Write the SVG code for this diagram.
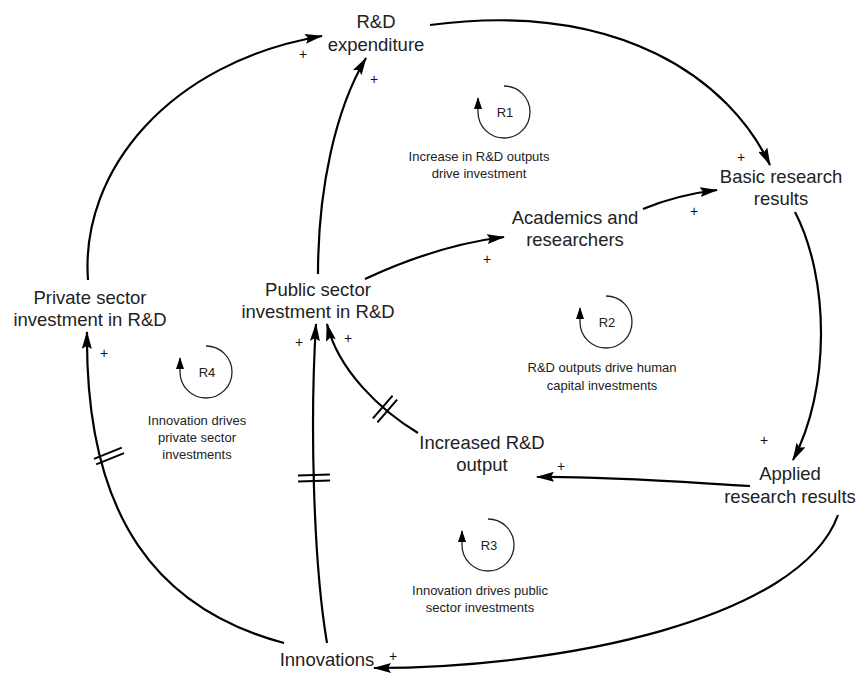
<svg xmlns="http://www.w3.org/2000/svg" width="857" height="676" viewBox="0 0 857 676">
<defs>
<style>
.node{font-family:"Liberation Sans",Arial,sans-serif;font-size:18.5px;fill:#222;text-anchor:middle}
.small{font-family:"Liberation Sans",Arial,sans-serif;font-size:13px;fill:#222;text-anchor:middle}
.pol{font-family:"Liberation Sans",Arial,sans-serif;font-size:14px;fill:#111;text-anchor:middle}
.link{fill:none;stroke:#000;stroke-width:2.2;marker-end:url(#ah)}
.delay{stroke:#000;stroke-width:2;fill:none}
.loop{fill:none;stroke:#222;stroke-width:1.3;marker-end:url(#lh)}
</style>
<marker id="ah" viewBox="0 0 18 10" refX="17" refY="5" markerWidth="18" markerHeight="10" markerUnits="userSpaceOnUse" orient="auto">
<path d="M0,0 L18,5 L0,10 L3,5 z" fill="#000"/>
</marker>
<marker id="lh" viewBox="0 0 12 8" refX="11" refY="4" markerWidth="12" markerHeight="8" markerUnits="userSpaceOnUse" orient="auto">
<path d="M0,0 L12,4 L0,8 z" fill="#000"/>
</marker>
</defs>
<rect width="857" height="676" fill="#fff"/>

<g id="connectors">
<path class="link" d="M88,280 C80,170 170,62 322,36"/>
<path class="link" d="M318,274 C318,190 335,110 366,58"/>
<path class="link" d="M430,25 C620,0 730,80 770,165"/>
<path class="link" d="M643,209 C667,199 692,193 717,190"/>
<path class="link" d="M365,279 C410,258 455,243 504,237"/>
<path class="link" d="M795,212 C830,280 830,390 793,460"/>
<path class="link" d="M750,486 C680,482 600,476 537,477"/>
<path class="link" d="M418,433 C380,410 338,370 327,324"/>
<path class="link" d="M327,643 C313,560 310,420 316,324"/>
<path class="link" d="M284,643 C160,610 85,520 87,332"/>
<path class="link" d="M838,515 C800,620 560,668 374,668"/>
<g id="delays">
<g transform="translate(109,456) rotate(-22)"><line class="delay" x1="-15" y1="-3" x2="15" y2="-3"/><line class="delay" x1="-15" y1="3" x2="15" y2="3"/></g>
<g transform="translate(314,478) rotate(-2)"><line class="delay" x1="-16" y1="-3" x2="16" y2="-3"/><line class="delay" x1="-16" y1="3" x2="16" y2="3"/></g>
<g transform="translate(385,409) rotate(-49)"><line class="delay" x1="-15" y1="-3" x2="15" y2="-3"/><line class="delay" x1="-15" y1="3" x2="15" y2="3"/></g>
</g>
<g id="polarities" class="pol">
<text x="303" y="59">+</text>
<text x="374" y="84">+</text>
<text x="741" y="162">+</text>
<text x="694" y="216">+</text>
<text x="487" y="264">+</text>
<text x="764" y="445">+</text>
<text x="561" y="471">+</text>
<text x="104" y="358">+</text>
<text x="299" y="347">+</text>
<text x="348" y="343">+</text>
<text x="393" y="661">+</text>
</g>
</g>

<g id="rd-expenditure"><text class="node" x="376" y="28">R&amp;D</text><text class="node" x="376" y="51">expenditure</text></g>
<g id="basic-research"><text class="node" x="781" y="183">Basic research</text><text class="node" x="781" y="205">results</text></g>
<g id="academics"><text class="node" x="575" y="224">Academics and</text><text class="node" x="575" y="246">researchers</text></g>
<g id="public-sector"><text class="node" x="318" y="296">Public sector</text><text class="node" x="318" y="318">investment in R&amp;D</text></g>
<g id="private-sector"><text class="node" x="90" y="304">Private sector</text><text class="node" x="90" y="326">investment in R&amp;D</text></g>
<g id="increased-output"><text class="node" x="482" y="449">Increased R&amp;D</text><text class="node" x="482" y="471">output</text></g>
<g id="applied-research"><text class="node" x="790" y="480">Applied</text><text class="node" x="790" y="503">research results</text></g>
<g id="innovations"><text class="node" x="327" y="666">Innovations</text></g>

<g id="loop-r1">
<path class="loop" d="M504,86 A26,26 0 1 1 478,112 L478,98"/>
<text class="small" x="505" y="117">R1</text>
<text class="small" x="479" y="161">Increase in R&amp;D outputs</text>
<text class="small" x="479" y="178">drive investment</text>
</g>
<g id="loop-r2">
<path class="loop" d="M606,296 A26,26 0 1 1 580,322 L580,308"/>
<text class="small" x="607" y="327">R2</text>
<text class="small" x="602" y="372">R&amp;D outputs drive human</text>
<text class="small" x="602" y="390">capital investments</text>
</g>
<g id="loop-r3">
<path class="loop" d="M488,519 A26,26 0 1 1 462,545 L462,531"/>
<text class="small" x="489" y="550">R3</text>
<text class="small" x="480" y="595">Innovation drives public</text>
<text class="small" x="480" y="612">sector investments</text>
</g>
<g id="loop-r4">
<path class="loop" d="M206,346 A26,26 0 1 1 180,372 L180,358"/>
<text class="small" x="207" y="377">R4</text>
<text class="small" x="197" y="425">Innovation drives</text>
<text class="small" x="197" y="442">private sector</text>
<text class="small" x="197" y="459">investments</text>
</g>
</svg>
